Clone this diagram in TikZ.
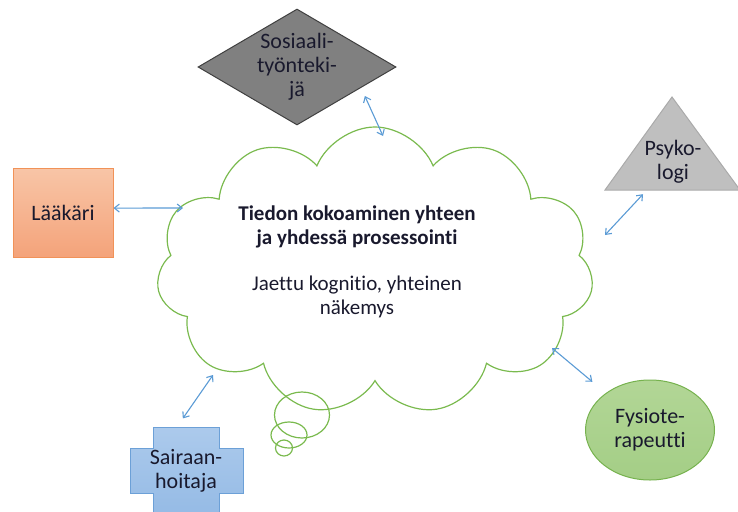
\documentclass[tikz,border=0pt]{standalone}
\usepackage{fontspec}
\setmainfont[Ligatures=NoCommon]{Carlito}
\usetikzlibrary{shapes.geometric, shapes.symbols, arrows.meta, positioning}
\definecolor{linkblue}{RGB}{91,155,213}
\definecolor{cloudgreen}{RGB}{122,186,78}
\definecolor{txtdark}{RGB}{25,25,45}

\begin{document}
\begin{tikzpicture}[x=1pt, y=-1pt, >={Straight Barb[length=5pt,width=8pt]},
    link/.style={<->, draw=linkblue, line width=1.1pt},
    lbl/.style={font=\fontsize{22}{24}\selectfont, text=txtdark, align=center},
    laabox/.style={lbl, rectangle, draw={rgb,255:red,241;green,146;blue,88}, line width=1pt,
      top color={rgb,255:red,248;green,197;blue,167}, bottom color={rgb,255:red,244;green,163;blue,122},
      minimum width=100pt, minimum height=89pt},
    sosbox/.style={lbl, diamond, aspect=1.7, inner sep=0pt, draw={rgb,255:red,64;green,64;blue,64},
      fill={rgb,255:red,128;green,128;blue,128}, line width=1pt, minimum width=198pt, minimum height=116pt},
    fysbox/.style={lbl, ellipse, inner sep=0pt, outer sep=0pt, draw={rgb,255:red,118;green,178;blue,78},
      top color={rgb,255:red,178;green,214;blue,150}, bottom color={rgb,255:red,164;green,206;blue,134},
      line width=1pt, minimum width=129pt, minimum height=100pt},
    psyshape/.style={draw={rgb,255:red,170;green,170;blue,170}, fill={rgb,255:red,191;green,191;blue,191}, line width=1pt},
    saishape/.style={draw={rgb,255:red,108;green,160;blue,215}, line width=1pt,
      top color={rgb,255:red,172;green,202;blue,236}, bottom color={rgb,255:red,145;green,184;blue,228}},
    thought/.style={cloud, draw=cloudgreen, line width=1.2pt, cloud puffs=11, cloud puff arc=135,
      aspect=1.5, minimum width=437pt, minimum height=288pt},
    bubble/.style={draw=cloudgreen, line width=1.2pt}]
  \useasboundingbox (0,0) rectangle (738,511);
  \clip (0,0) rectangle (738,511);

  % cloud in the middle
  \node[thought] (cloud) at (375,271) {};
  \draw[bubble] (302,415) ellipse [x radius=27.5, y radius=23];
  \draw[bubble] (289,435) ellipse [x radius=18, y radius=13];
  \draw[bubble] (284,448) ellipse [x radius=8.5, y radius=8];
  \node[font=\fontsize{21}{23.5}\selectfont, text=txtdark, align=center] (idea) at (357,262)
    {\textbf{Tiedon kokoaminen yhteen}\\\textbf{ja yhdessä prosessointi}\\[23pt]
     Jaettu kognitio, yhteinen\\näkemys};

  % professions round it
  \node[laabox] (laa) at (63,212.5) {Lääkäri};
  \node[sosbox] (sos) at (297,67) {Sosiaali-\\työnteki-\\jä};
  \draw[psyshape] (605,190) -- (672,97) -- (740,190) -- cycle;
  \node[lbl] (psy) at (673,162) {Psyko-\\logi};
  \node[fysbox] (fys) at (650,430) {Fysiote-\\rapeutti};
  \draw[saishape] (153,427) -- (219,427) -- (219,448) -- (243,448) -- (243,493) -- (219,493)
    -- (219,530) -- (153,530) -- (153,493) -- (130,493) -- (130,448) -- (153,448) -- cycle;
  \node[lbl] (sai) at (186,471) {Sairaan-\\hoitaja};

  % arrow ends on the cloud side
  \coordinate (cL) at (183,208);
  \coordinate (cS) at (383,136);
  \coordinate (cP) at (605,235);
  \coordinate (cF) at (552,348);
  \coordinate (cH) at (213,375);

  \draw[link] (laa.5) -- (cL);
  \draw[link, shorten <=9pt] (sos.-18) -- (cS);
  \draw[link, shorten >=44pt] (cP) -- (psy.center);
  \draw[link, shorten >=18pt] (cF) -- (fys);
  \draw[link, shorten >=64pt] (cH) -- (sai.west);
\end{tikzpicture}
\end{document}
